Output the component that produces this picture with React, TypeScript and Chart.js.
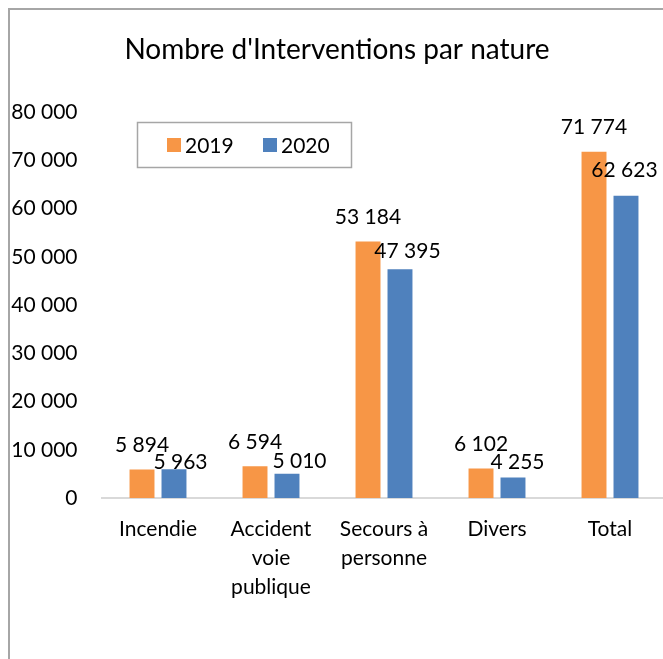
import React, { useEffect, useRef } from 'react';
import { Chart, registerables } from 'chart.js';

Chart.register(...registerables);

// ---- Data ----
const chartTitle = "Nombre d'Interventions par nature";
const categories: string[][] = [
  ['Incendie'],
  ['Accident', 'voie', 'publique'],
  ['Secours à', 'personne'],
  ['Divers'],
  ['Total'],
];
const seriesNames = ['2019', '2020'];
const values2019 = [5894, 6594, 53184, 6102, 71774];
const values2020 = [5963, 5010, 47395, 4255, 62623];
const yMin = 0;
const yMax = 80000;
const yStep = 10000;

// ---- Style ----
const FONT = 'Lato, "Open Sans", sans-serif';
const TEXT = '#000000';
const COLORS = ['#F79646', '#4F81BD'];
// label nudges (dx, dy) in px relative to the default "outside end" spot
const labelNudges: number[][][] = [
  [[0, 0], [0, 0], [0, 0], [0, 0], [0, 0]],
  [[6.5, 17], [12.5, 12], [7.5, 6], [4.5, 9.5], [-1.5, -1]],
];

const fmt = (n: number) => String(Math.round(n)).replace(/\B(?=(\d{3})+(?!\d))/g, ' ');

const decorPlugin = {
  id: 'decor',
  afterDatasetsDraw(chart: any) {
    const ctx = chart.ctx;
    ctx.save();
    ctx.font = `21px ${FONT}`;
    ctx.fillStyle = TEXT;
    ctx.textAlign = 'center';
    ctx.textBaseline = 'alphabetic';
    chart.data.datasets.forEach((ds: any, di: number) => {
      const meta = chart.getDatasetMeta(di);
      meta.data.forEach((el: any, i: number) => {
        const [dx, dy] = labelNudges[di][i];
        const cy = el.y - 25 + dy;
        ctx.fillText(fmt(ds.data[i]), el.x + dx, cy + 7.5);
      });
    });
    ctx.restore();
  },
  afterDraw(chart: any) {
    const ctx = chart.ctx;
    ctx.save();
    // title
    ctx.font = `28px ${FONT}`;
    ctx.fillStyle = TEXT;
    ctx.textAlign = 'center';
    ctx.textBaseline = 'alphabetic';
    ctx.fillText(chartTitle, 327, 48.5);
    // legend
    ctx.strokeStyle = '#a6a6a6';
    ctx.lineWidth = 1.5;
    ctx.strokeRect(127.5, 112.5, 214, 45);
    const itemX = [157, 253];
    ctx.font = `21px ${FONT}`;
    ctx.textAlign = 'left';
    chart.data.datasets.forEach((ds: any, di: number) => {
      ctx.fillStyle = ds.backgroundColor;
      ctx.fillRect(itemX[di], 128, 14, 14);
      ctx.fillStyle = TEXT;
      ctx.fillText(ds.label, itemX[di] + 18, 142.5);
    });
    ctx.restore();
  },
};

export default function App() {
  const ref = useRef<HTMLCanvasElement | null>(null);

  useEffect(() => {
    document.documentElement.style.overflow = 'hidden';
    const canvas = ref.current!;
    const chart = new Chart(canvas, {
      type: 'bar',
      data: {
        labels: categories,
        datasets: [
          { label: seriesNames[0], data: values2019, backgroundColor: COLORS[0], borderWidth: 0 },
          { label: seriesNames[1], data: values2020, backgroundColor: COLORS[1], borderWidth: 0 },
        ],
      },
      options: {
        responsive: false,
        animation: false,
        devicePixelRatio: 1,
        layout: { padding: { top: 102, right: 13.5, bottom: 0, left: 0 } },
        plugins: {
          legend: { display: false },
          title: { display: false },
          tooltip: { enabled: false },
        },
        datasets: {
          bar: { categoryPercentage: 0.566, barPercentage: 0.78 },
        },
        scales: {
          x: {
            grid: { display: false, drawTicks: false },
            border: { display: true, color: '#d9d9d9', width: 2 },
            ticks: {
              color: TEXT,
              font: { family: FONT, size: 21, lineHeight: 1.38 },
              padding: 17,
              maxRotation: 0,
              autoSkip: false,
            },
            afterFit: (s: any) => { s.height = 162; },
          },
          y: {
            min: yMin,
            max: yMax,
            grid: { display: false, drawTicks: false },
            border: { display: false },
            ticks: {
              stepSize: yStep,
              color: TEXT,
              font: { family: FONT, size: 21 },
              padding: 24,
              callback: (v: any) => fmt(Number(v)),
            },
            afterFit: (s: any) => { s.width = 91.5; },
          },
        },
      },
      plugins: [decorPlugin],
    });
    return () => chart.destroy();
  }, []);

  return (
    <div
      style={{
        position: 'fixed',
        left: 8,
        top: 8,
        borderLeft: '2px solid #a6a6a6',
        borderTop: '2px solid #a6a6a6',
        width: 680,
        height: 660,
        background: '#fff',
      }}
    >
      <canvas ref={ref} width={670} height={650} style={{ display: 'block' }} />
    </div>
  );
}
